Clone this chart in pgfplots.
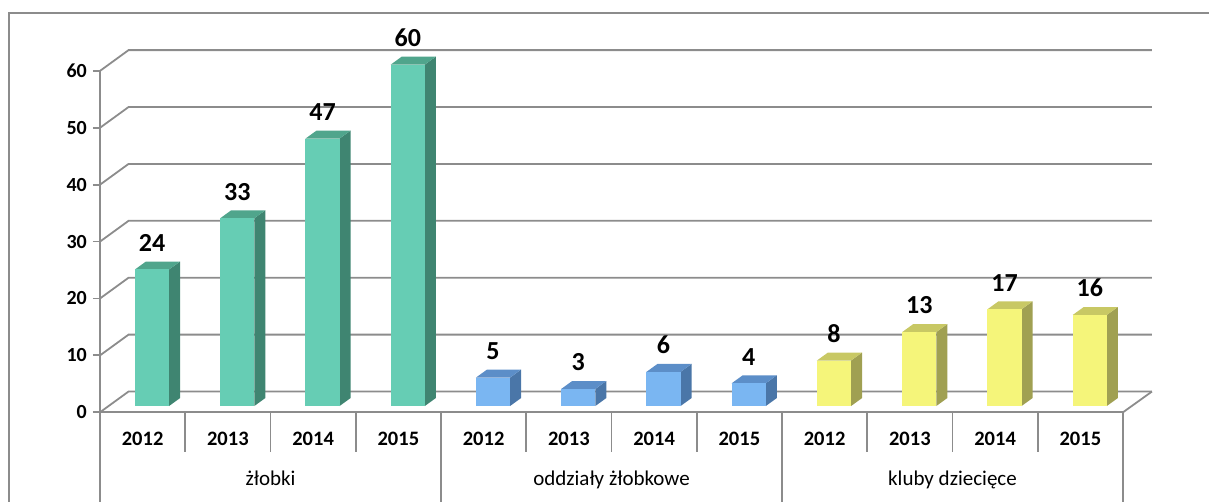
\documentclass[border=0pt]{standalone}
\usepackage{fontspec}
\setmainfont{Carlito}
\usepackage{pgfplots}
\usepackage{pgfplotstable}
\pgfplotsset{compat=1.18}

\definecolor{front0}{RGB}{102,205,180}
\definecolor{top0}{RGB}{80,165,140}
\definecolor{side0}{RGB}{63,133,113}
\definecolor{front1}{RGB}{122,182,242}
\definecolor{top1}{RGB}{92,142,200}
\definecolor{side1}{RGB}{74,118,168}
\definecolor{front2}{RGB}{245,245,122}
\definecolor{top2}{RGB}{200,200,100}
\definecolor{side2}{RGB}{160,160,82}
\definecolor{gridgray}{RGB}{140,140,140}

\pgfplotstableread{
x v g
0 24 0
1 33 0
2 47 0
3 60 0
4 5 1
5 3 1
6 6 1
7 4 1
8 8 2
9 13 2
10 17 2
11 16 2
}\data

\begin{document}
\begin{tikzpicture}
\begin{axis}[
  x=85.25pt, y=5.69pt,
  xmin=-0.5, xmax=11.5, ymin=0, ymax=60,
  clip=false,
  axis x line*=bottom, axis y line*=left,
  axis line style={draw=gridgray, line width=1.8pt, -},
  ytick={0,10,...,60},
  tick align=outside, major tick length=7pt,
  ytick style={draw=gridgray, line width=1.8pt},
  xtick={0,...,11},
  xticklabels={2012,2013,2014,2015,2012,2013,2014,2015,2012,2013,2014,2015},
  xtick style={draw=none},
  extra x ticks={1.5,5.5,9.5},
  extra x tick labels={żłobki,oddziały żłobkowe,kluby dziecięce},
  extra x tick style={xtick style={draw=none},
    xticklabel style={font=\fontsize{21}{25}\selectfont, anchor=base, yshift=-40pt}},
  xticklabel style={font=\bfseries\fontsize{20.5}{24}\selectfont, anchor=base, yshift=-26pt, inner sep=0pt},
  yticklabel style={font=\bfseries\fontsize{20}{24}\selectfont, anchor=east, inner sep=0pt, xshift=-6pt},
  /pgf/number format/assume math mode=true,
]
% bounding box corners (image frame)
\coordinate (BL) at (axis cs:-1.673,-15.76);
\coordinate (TR) at (axis cs:12.509,72.46);
% outer chart frame
\draw[gridgray, line width=2pt] (axis cs:-1.567,-20) -- (axis cs:-1.567,70.18) -- (axis cs:13,70.18);
% back wall gridlines and side wall diagonals
\pgfplotsinvokeforeach{0,10,20,30,40,50,60}{
  \draw[gridgray, line width=1.8pt] (axis cs:-0.5,#1) -- (axis cs:-0.165,#1+3.65) -- (axis cs:11.84,#1+3.65);
}
% floor right edge
\draw[gridgray, line width=1.8pt] (axis cs:11.5,0) -- (axis cs:11.84,3.65);
% category separators
\pgfplotsinvokeforeach{0.5,1.5,2.5,4.5,5.5,6.5,8.5,9.5,10.5}{
  \draw[gridgray, line width=1.8pt] (axis cs:#1,0) -- (axis cs:#1,-6.98);
}
\pgfplotsinvokeforeach{-0.5,3.5,7.5,11.5}{
  \draw[gridgray, line width=1.8pt] (axis cs:#1,0) -- (axis cs:#1,-17);
}
% 3D bars
\pgfplotsforeachungrouped \i in {0,...,11}{
  \pgfplotstablegetelem{\i}{x}\of\data \let\X\pgfplotsretval
  \pgfplotstablegetelem{\i}{v}\of\data \let\V\pgfplotsretval
  \pgfplotstablegetelem{\i}{g}\of\data \let\G\pgfplotsretval
  \pgfmathsetmacro\L{\X-0.09}
  \pgfmathsetmacro\R{\X+0.31}
  \pgfmathsetmacro\LL{\L+0.129}
  \pgfmathsetmacro\RR{\R+0.129}
  \pgfmathsetmacro\B{1.1}
  \pgfmathsetmacro\BB{1.1+1.4}
  \pgfmathsetmacro\T{\V+1.1}
  \pgfmathsetmacro\TT{\V+1.1+1.4}
  \edef\temp{%
    \noexpand\addplot[fill=side\G, draw=none] coordinates {(\R,\B) (\RR,\BB) (\RR,\TT) (\R,\T)} --cycle;
    \noexpand\addplot[fill=top\G, draw=none] coordinates {(\L,\T) (\R,\T) (\RR,\TT) (\LL,\TT)} --cycle;
    \noexpand\addplot[fill=front\G, draw=none] coordinates {(\L,\B) (\R,\B) (\R,\T) (\L,\T)} --cycle;
  }
  \temp
}
% value labels
\addplot[draw=none, mark=none, nodes near coords, point meta=explicit,
  every node near coord/.append style={font=\bfseries\fontsize{26}{30}\selectfont, anchor=base, inner sep=0pt, xshift=9.4pt, yshift=24.5pt}]
  table[x=x, y=v, meta=v] {\data};
\end{axis}
\pgfresetboundingbox
\path[use as bounding box] (BL) rectangle (TR);
\end{tikzpicture}
\end{document}
